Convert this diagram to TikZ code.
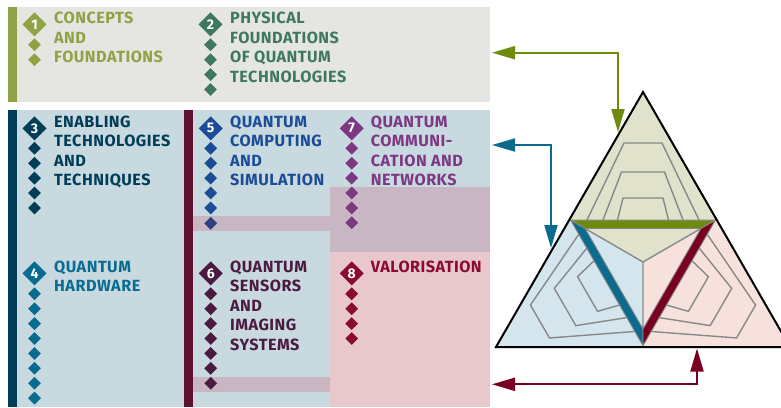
\documentclass[tikz,border=0pt]{standalone}
\usepackage{fontspec}
\setmainfont{Fira Sans}
\newfontfamily\lblfont{Fira Sans}[LetterSpace=3.0]
\usetikzlibrary{shapes.geometric,arrows.meta,calc}
\definecolor{cone}{RGB}{143,163,68}
\definecolor{ctwo}{RGB}{62,120,98}
\definecolor{cthree}{RGB}{0,61,87}
\definecolor{cfour}{RGB}{10,107,145}
\definecolor{cfive}{RGB}{27,76,151}
\definecolor{cfivedark}{RGB}{46,62,126}
\definecolor{csix}{RGB}{75,26,64}
\definecolor{cseven}{RGB}{125,56,131}
\definecolor{ceight}{RGB}{138,10,48}
\definecolor{maroonbar}{RGB}{94,18,48}
\definecolor{topbg}{RGB}{229,230,225}
\definecolor{bluebg}{RGB}{200,217,224}
\definecolor{mauvebg}{RGB}{200,183,194}
\definecolor{pinkbg}{RGB}{232,200,205}
\definecolor{trigreen}{RGB}{224,226,204}
\definecolor{triblue}{RGB}{212,229,238}
\definecolor{tripink}{RGB}{246,225,221}
\definecolor{greenbar}{RGB}{110,139,14}
\definecolor{bluebar}{RGB}{11,107,142}
\definecolor{redbar}{RGB}{122,0,34}
\definecolor{greyline}{RGB}{136,136,136}
\newcommand\trapset{%
  \draw[tline] (-56,-42) -- (-19,-119) -- (19,-119) -- (56,-42);
  \draw[tline] (-40,-42) -- (-21.5,-90) -- (21.5,-90) -- (40,-42);
  \draw[tline] (-25.5,-42) -- (-20,-64) -- (20,-64) -- (25.5,-42);
}
% big numbered diamond: name, x, y, colour, number
\newcommand\bigdia[5]{%
  \fill[#4] (#2,#3) +(0,-12) -- +(12,0) -- +(0,12) -- +(-12,0) -- cycle;
  \node[numtext] (#1) at (#2,#3) {#5};}
% small diamond: name, x, y, colour
\newcommand\smalldia[4]{%
  \fill[#4] (#2,#3) +(0,-6.4) -- +(6.4,0) -- +(0,6.4) -- +(-6.4,0) -- cycle;
  \coordinate (#1) at (#2,#3);}
\begin{document}
\begin{tikzpicture}[x=1pt,y=-1pt,
  lbl/.style={anchor=base west, inner sep=0pt, align=left, text=#1,
    font=\fontsize{16.2}{19.4}\selectfont\lblfont\bfseries},
  numtext/.style={inner sep=0pt, text=white, font=\fontsize{14}{14}\selectfont\bfseries},
  tline/.style={draw=greyline, line width=1.4pt, line join=miter},
  barstyle/.style={draw=greyline, line width=0.9pt, line join=miter},
  conn/.style={line width=2pt, draw=#1,
    {Triangle[length=23pt,width=13pt]}-{Triangle[length=23pt,width=13pt]}}]
\useasboundingbox (0,0) rectangle (781,407);
% ---------- panels ----------
\fill[topbg] (8,6.5) rectangle (490,102);
\fill[cone] (8,6.5) rectangle (17.3,102);
\fill[bluebg] (17,110) rectangle (490,407);
\fill[cthree] (8,110) rectangle (17.3,407);
\fill[maroonbar] (184,110) rectangle (193,407);
\fill[mauvebg] (330,187) rectangle (490,252);
\fill[pinkbg] (330,252) rectangle (490,407);
\fill[mauvebg] (193,216) rectangle (330,231);
\fill[mauvebg] (193,377) rectangle (330,392);
% ---------- column 1 (base = last line baseline) ----------
\bigdia{n1}{34.5}{24.3}{cone}{1}
\node[lbl=cone] (t1) at (54,62.6) {CONCEPTS\\AND\\FOUNDATIONS};
\foreach \k in {0,1} {\smalldia{s1-\k}{34.5}{44.8+14.9*\k}{cone}}
% ---------- column 2 ----------
\bigdia{n2}{210.5}{24.3}{ctwo}{2}
\node[lbl=ctwo] (t2) at (230,82.0) {PHYSICAL\\FOUNDATIONS\\OF QUANTUM\\TECHNOLOGIES};
\foreach \k in {0,...,3} {\smalldia{s2-\k}{210.5}{44.8+14.9*\k}{ctwo}}
% ---------- column 3 ----------
\bigdia{n3}{34.5}{128.3}{cthree}{3}
\node[lbl=cthree] (t3) at (54,185.4) {ENABLING\\TECHNOLOGIES\\AND\\TECHNIQUES};
\foreach \k in {0,...,4} {\smalldia{s3-\k}{34.5}{148.3+14.9*\k}{cthree}}
% ---------- column 4 ----------
\bigdia{n4}{34.5}{273.3}{cfour}{4}
\node[lbl=cfour] (t4) at (54,291.9) {QUANTUM\\HARDWARE};
\foreach \k in {0,...,7} {\smalldia{s4-\k}{34.5}{293.8+14.9*\k}{cfour}}
% ---------- column 5 ----------
\bigdia{n5}{210.7}{128.3}{cfive}{5}
\node[lbl=cfive] (t5) at (230,185.4) {QUANTUM\\COMPUTING\\AND\\SIMULATION};
\foreach \k in {0,...,4} {\smalldia{s5-\k}{210.7}{148.3+14.9*\k}{cfive}}
\smalldia{s5-5}{210.7}{223.3}{cfivedark}
% ---------- column 6 ----------
\bigdia{n6}{210.7}{273.3}{csix}{6}
\node[lbl=csix] (t6) at (230,350.1) {QUANTUM\\SENSORS\\AND\\IMAGING\\SYSTEMS};
\foreach \k in {0,...,6} {\smalldia{s6-\k}{210.7}{293.8+14.9*\k}{csix}}
% ---------- column 7 ----------
\bigdia{n7}{351.7}{128.3}{cseven}{7}
\node[lbl=cseven] (t7) at (370.7,185.4) {QUANTUM\\COMMUNI-\\CATION AND\\NETWORKS};
\foreach \k in {0,...,5} {\smalldia{s7-\k}{351.7}{148.3+14.9*\k}{cseven}}
% ---------- column 8 ----------
\bigdia{n8}{351.7}{273.3}{ceight}{8}
\node[lbl=ceight] (t8) at (370.7,272.5) {VALORISATION};
\foreach \k in {0,...,3} {\smalldia{s8-\k}{351.7}{293.8+14.9*\k}{ceight}}
% ---------- triangle ----------
\coordinate (A) at (643,92);
\coordinate (L) at (496,347);
\coordinate (R) at (790,347);
\coordinate (C) at (643,262);
\coordinate (mL) at ($(A)!0.5!(L)$);
\coordinate (mR) at ($(A)!0.5!(R)$);
\coordinate (mB) at ($(L)!0.5!(R)$);
\coordinate (TL) at ($(C)!0.985!(mL)$);
\coordinate (TR) at ($(C)!0.985!(mR)$);
\coordinate (B) at ($(C)!0.985!(mB)$);
\coordinate (TLi) at ($(C)!0.80!(TL)$);
\coordinate (TRi) at ($(C)!0.80!(TR)$);
\coordinate (Bi) at ($(C)!0.80!(B)$);
\fill[trigreen] (A) -- (mL) -- (C) -- (mR) -- cycle;
\fill[triblue] (L) -- (mB) -- (C) -- (mL) -- cycle;
\fill[tripink] (R) -- (mR) -- (C) -- (mB) -- cycle;
\begin{scope}[shift={(C)}]\trapset\end{scope}
\begin{scope}[rotate around={120:(C)}]\begin{scope}[shift={(C)}]\trapset\end{scope}\end{scope}
\begin{scope}[rotate around={-120:(C)}]\begin{scope}[shift={(C)}]\trapset\end{scope}\end{scope}
\draw[tline] (C) -- (TLi) (C) -- (TRi) (C) -- (Bi);
\filldraw[barstyle, fill=greenbar] (TL) -- (TR) -- (TRi) -- (TLi) -- cycle;
\filldraw[barstyle, fill=bluebar] (TL) -- (TLi) -- (Bi) -- (B) -- cycle;
\filldraw[barstyle, fill=redbar] (TR) -- (B) -- (Bi) -- (TRi) -- cycle;
\draw[line width=2pt, line join=miter] (A) -- (L) -- (R) -- cycle;
% ---------- connectors ----------
\coordinate (g0) at (492,52.7);
\coordinate (g1) at (618,132);
\coordinate (b0) at (492,145);
\coordinate (b1) at (551,248);
\coordinate (r0) at (492,384.3);
\coordinate (r1) at (697,348.5);
\draw[conn=greenbar] (g0) -| (g1);
\draw[conn=bluebar] (b0) -| (b1);
\draw[conn=redbar] (r0) -| (r1);
\end{tikzpicture}
\end{document}
